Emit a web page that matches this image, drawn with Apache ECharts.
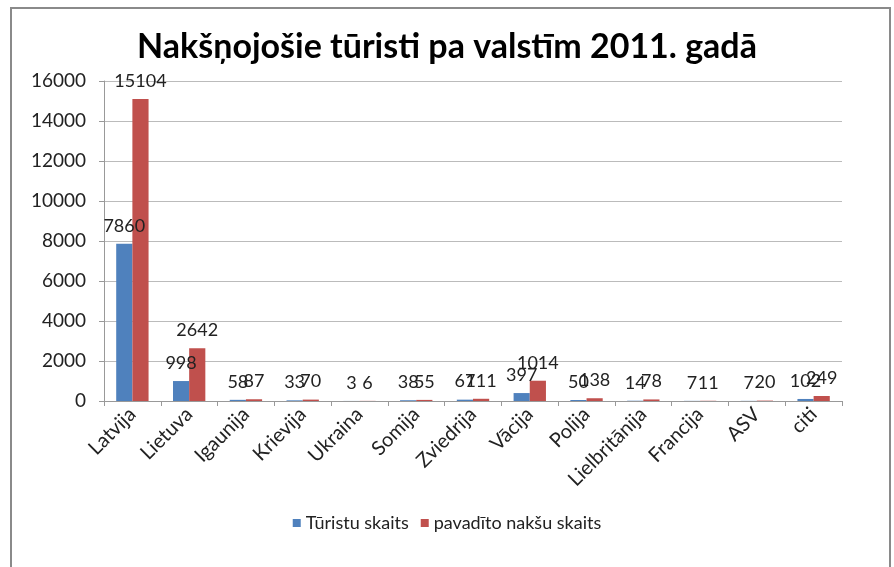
<!DOCTYPE html>
<html>
<head>
<meta charset="utf-8">
<script src="https://cdn.jsdelivr.net/npm/echarts@6/dist/echarts.min.js"></script>
<style>
  html, body { margin: 0; padding: 0; background: #fff; }
  #chart { width: 894px; height: 567px; }
</style>
</head>
<body>
<div id="chart"></div>
<script>
// dati no attēla
const valstis = ['Latvija', 'Lietuva', 'Igaunija', 'Krievija', 'Ukraina', 'Somija', 'Zviedrija',
                 'Vācija', 'Polija', 'Lielbritānija', 'Francija', 'ASV', 'citi'];
const turistuSkaits = [7860, 998, 58, 33, 3, 38, 67, 397, 50, 14, 7, 7, 102];
const naksuSkaits = [15104, 2642, 87, 70, 6, 55, 111, 1014, 138, 78, 11, 20, 249];
const yTicks = [0, 2000, 4000, 6000, 8000, 10000, 12000, 14000, 16000];

const FONT = 'Lato, "Open Sans", sans-serif';

const chart = echarts.init(document.getElementById('chart'));

const labelStyle = {
    show: true,
    position: 'top',
    distance: 9,
    color: '#222',
    fontSize: 18,
    fontFamily: FONT
};

chart.setOption({
    animation: false,
    title: {
        text: 'Nakšņojošie tūristi pa valstīm 2011. gadā',
        left: 'center',
        top: 25,
        textStyle: { fontFamily: FONT, fontWeight: 'bold', fontSize: 34, color: '#000' }
    },
    graphic: [{
        type: 'rect',
        shape: { x: 11, y: 8, width: 879, height: 580 },
        style: { fill: 'none', stroke: '#8a8a8a', lineWidth: 2 },
        silent: true
    }],
    legend: {
        bottom: 30,
        left: 'center',
        itemWidth: 8,
        itemHeight: 8,
        itemGap: 12,
        icon: 'rect',
        textStyle: { fontFamily: FONT, fontSize: 18, color: '#222' },
        data: ['Tūristu skaits', 'pavadīto nakšu skaits']
    },
    grid: { left: 104, right: 52, top: 81, bottom: 166 },
    xAxis: {
        type: 'category',
        data: valstis,
        axisLine: { lineStyle: { color: '#999' } },
        axisTick: { show: true, length: 5, alignWithLabel: false, lineStyle: { color: '#999' } },
        axisLabel: { rotate: 45, interval: 0, fontFamily: FONT, fontSize: 20, color: '#222', margin: 10 }
    },
    yAxis: {
        type: 'value',
        min: yTicks[0],
        max: yTicks[yTicks.length - 1],
        interval: yTicks[1] - yTicks[0],
        axisLine: { show: true, lineStyle: { color: '#999' } },
        axisTick: { show: true, length: 5, lineStyle: { color: '#999' } },
        axisLabel: { fontFamily: FONT, fontSize: 19, color: '#222', margin: 18, formatter: v => String(v) },
        splitLine: { lineStyle: { color: '#bbb' } }
    },
    series: [
        {
            name: 'Tūristu skaits',
            type: 'bar',
            data: turistuSkaits,
            barGap: '0%',
            barCategoryGap: '43%',
            itemStyle: { color: '#4F81BD' },
            label: labelStyle,
            labelLayout: { moveOverlap: 'shiftY' }
        },
        {
            name: 'pavadīto nakšu skaits',
            type: 'bar',
            data: naksuSkaits,
            itemStyle: { color: '#C0504D' },
            label: labelStyle,
            labelLayout: { moveOverlap: 'shiftY' }
        }
    ]
});
</script>
</body>
</html>
